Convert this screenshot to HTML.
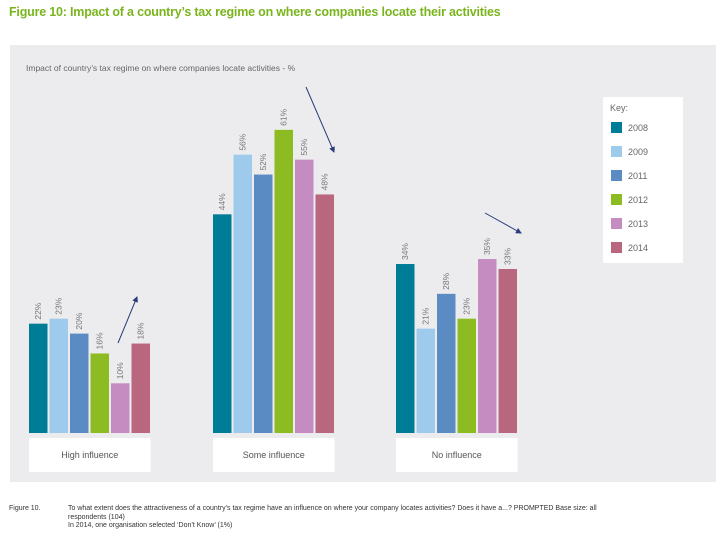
<!DOCTYPE html>
<html><head><meta charset="utf-8"><style>
body{margin:0;width:716px;height:538px;background:#fff;font-family:"Liberation Sans",sans-serif;overflow:hidden;position:relative}
.t{position:absolute;left:9px;top:5px;font-size:12.5px;font-weight:bold;color:#7ab51d;letter-spacing:-0.2px}
.f{position:absolute;font-size:7px;color:#333}
</style></head><body>
<div class="t">Figure 10: Impact of a country’s tax regime on where companies locate their activities</div>
<svg width="716" height="538" style="position:absolute;left:0;top:0">
<defs><marker id="ah" markerWidth="6" markerHeight="6" refX="5" refY="3" orient="auto"><path d="M0,0L6,3L0,6z" fill="#2a3a7a"/></marker></defs>
<rect x="10" y="45" width="706" height="437" fill="#ececef"/>
<text x="26" y="71" font-size="8.5" fill="#666">Impact of country’s tax regime on where companies locate activities - %</text>
<g id="bars"></g>
<g id="legend"></g>
<line x1="118" y1="343" x2="137" y2="297" stroke="#2a3a7a" marker-end="url(#ah)"/>
<line x1="306" y1="87" x2="334" y2="152" stroke="#2a3a7a" marker-end="url(#ah)"/>
<line x1="485" y1="213" x2="521" y2="233" stroke="#2a3a7a" marker-end="url(#ah)"/>
</svg>
<div class="f" style="left:9px;top:505px">Figure 10.</div>
<div class="f" style="left:68px;top:505px;width:580px;line-height:8.5px">To what extent does the attractiveness of a country’s tax regime have an influence on where your company locates activities? Does it have a...? PROMPTED Base size: all<br>respondents (104)<br>In 2014, one organisation selected ‘Don’t Know’ (1%)</div>
<script>
const categories=["High influence","Some influence","No influence"];
const years=["2008","2009","2011","2012","2013","2014"];
const colors=["#007d96","#9ecbec","#5b8bc3","#8cbc22","#c48cc0","#b9677e"];
const v2008=[22,44,34];
const v2009=[23,56,21];
const v2011=[20,52,28];
const v2012=[16,61,23];
const v2013=[10,55,35];
const v2014=[18,48,33];
const series=[v2008,v2009,v2011,v2012,v2013,v2014];
const NS="http://www.w3.org/2000/svg";
const base=433,scale=4.97,groupX=[29,213,396],pitch=20.5,bw=18.5;
function y(v){return base-v*scale;}
function x(g,s){return groupX[g]+s*pitch;}
const gb=document.getElementById('bars');
function mk(t,a){const e=document.createElementNS(NS,t);for(const k in a)e.setAttribute(k,a[k]);return e;}
categories.forEach((c,g)=>{
  series.forEach((arr,s)=>{
    const r=mk('rect',{x:x(g,s),y:y(arr[g]),width:bw,height:arr[g]*scale,fill:colors[s]});
    
    
    gb.appendChild(r);
    const cx=x(g,s)+bw/2+3,ty=y(arr[g])-4;
    const t=mk('text',{x:cx,y:ty,'font-size':8.5,fill:'#777',transform:'rotate(-90 '+cx+' '+ty+')'});
    t.textContent=arr[g]+'%';
    
    
    gb.appendChild(t);
  });
  const bx=mk('rect',{x:groupX[g],y:438,width:121.5,height:34,fill:'#fff'});
  
  
  gb.appendChild(bx);
  const lt=mk('text',{x:groupX[g]+60.75,y:458,'font-size':9,fill:'#555','text-anchor':'middle'});
  lt.textContent=c;
  
  
  gb.appendChild(lt);
});
const gl=document.getElementById('legend');
const lb=mk('rect',{x:603,y:97,width:80,height:166,fill:'#fff'});


gl.appendChild(lb);
const kt=mk('text',{x:610,y:111,'font-size':9,fill:'#666'});kt.textContent='Key:';


gl.appendChild(kt);
years.forEach((yr,i)=>{
  const sw=mk('rect',{x:611,y:122+i*24,width:11,height:11,fill:colors[i]});
  
  
  gl.appendChild(sw);
  const tt=mk('text',{x:628,y:131+i*24,'font-size':9,fill:'#666'});tt.textContent=yr;
  
  
  gl.appendChild(tt);
});
</script>
</body></html>
